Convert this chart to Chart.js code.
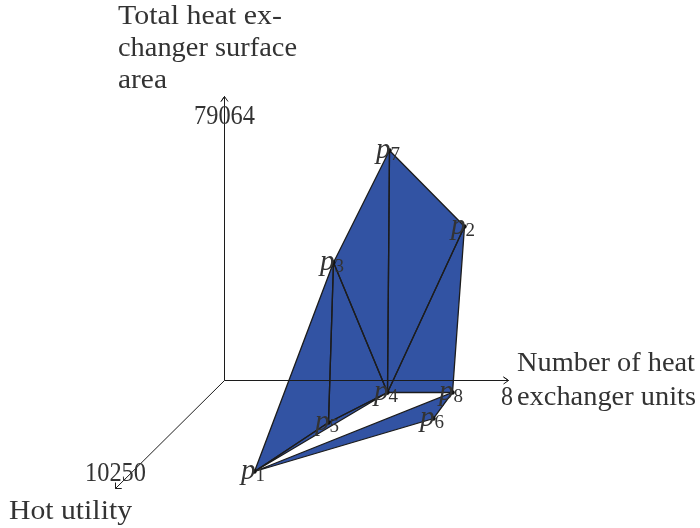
<!DOCTYPE html>
<html><head><meta charset="utf-8">
<style>html,body{margin:0;padding:0;background:#fff}canvas{display:block}</style>
<script src="https://cdn.jsdelivr.net/npm/chart.js@4"></script></head>
<body><canvas id="c" width="700" height="528"></canvas>
<script>
const pointNumbers = ['1','2','3','4','5','6','7','8'];
const planeX = [30,240,109,163,104,209,165,228];
const planeY = [-91,154,118,-12,-42,-38,230,-12];
const faces = [[0,2,4],[2,4,3],[2,6,3],[6,1,3],[1,7,3],[0,4,3],[0,7,5]];
const xAxisPathX = [0,284,279,284,279];
const xAxisPathY = [0,0,3.5,0,-3.5];
const yAxisPathX = [0,0,-3.5,0,3.5];
const yAxisPathY = [0,284,279,284,279];
const zAxisPathX = [0,-109,-103,-109,-109];
const zAxisPathY = [0,-108,-108,-108,-102];
const FILL = '#3253a3', INK = '#1c1c1c', TEXT = '#333333';
const SERIF = '"Liberation Serif"';

const xy = (xs, ys) => xs.map((x, i) => ({x, y: ys[i]}));
const faceData = f => [...f, f[0]].map(i => ({x: planeX[i], y: planeY[i]}));
const axisSet = (xs, ys) => ({data: xy(xs, ys), showLine: true, borderColor: INK, borderWidth: 1, pointRadius: 0, fill: false, order: 1});

const textItems = [
  ['Total heat ex-',118,24,164],['changer surface',118,56,179],['area',118,88,49],
  ['79064',194,124,61],['10250',85,481,61],['Hot utility',9,519,123],
  ['8',501,405,12],['Number of heat',517,371,178],['exchanger units',517,405,179]
];

const facePlugin = {
  id: 'faces',
  beforeDatasetsDraw(chart) {
    const {ctx} = chart;
    faces.forEach((f, k) => {
      const pts = chart.getDatasetMeta(k).data;
      ctx.save(); ctx.fillStyle = FILL; ctx.beginPath();
      f.forEach((_, i) => { const p = pts[i]; i ? ctx.lineTo(p.x, p.y) : ctx.moveTo(p.x, p.y); });
      ctx.closePath(); ctx.fill(); ctx.restore();
    });
  },
  afterDatasetsDraw(chart) {
    const {ctx} = chart;
    ctx.save(); ctx.fillStyle = TEXT; ctx.textBaseline = 'alphabetic';
    textItems.forEach(([t, x, y, w]) => {
      ctx.font = '27px ' + SERIF;
      const m = ctx.measureText(t).width;
      ctx.save(); ctx.translate(x, y); ctx.scale(w / m, 1); ctx.fillText(t, 0, 0); ctx.restore();
    });
    const verts = chart.getDatasetMeta(faces.length + 3).data;
    verts.forEach((p, i) => {
      ctx.font = 'italic 29px ' + SERIF; ctx.textAlign = 'right';
      ctx.fillText('p', p.x + 1, p.y + 7);
      ctx.font = '19px ' + SERIF; ctx.textAlign = 'left';
      ctx.fillText(pointNumbers[i], p.x + 1, p.y + 9);
    });
    ctx.restore();
  }
};

new Chart(document.getElementById('c'), {
  type: 'scatter',
  data: {datasets: [
    ...faces.map(f => ({data: faceData(f), showLine: true, borderColor: INK, borderWidth: 1.3, pointRadius: 0, fill: false, order: 2})),
    axisSet(xAxisPathX, xAxisPathY), axisSet(yAxisPathX, yAxisPathY), axisSet(zAxisPathX, zAxisPathY),
    {data: xy(planeX, planeY), showLine: false, pointRadius: 2.2, pointBackgroundColor: '#111', pointBorderWidth: 0, order: 0}
  ]},
  plugins: [facePlugin],
  options: {
    responsive: false, animation: false, devicePixelRatio: 1,
    layout: {padding: 0, autoPadding: false},
    plugins: {legend: {display: false}, tooltip: {enabled: false}, title: {display: false}},
    scales: {
      x: {type: 'linear', display: false, min: -224.5, max: 475.5},
      y: {type: 'linear', display: false, min: -147.5, max: 380.5}
    }
  }
});
</script></body></html>
